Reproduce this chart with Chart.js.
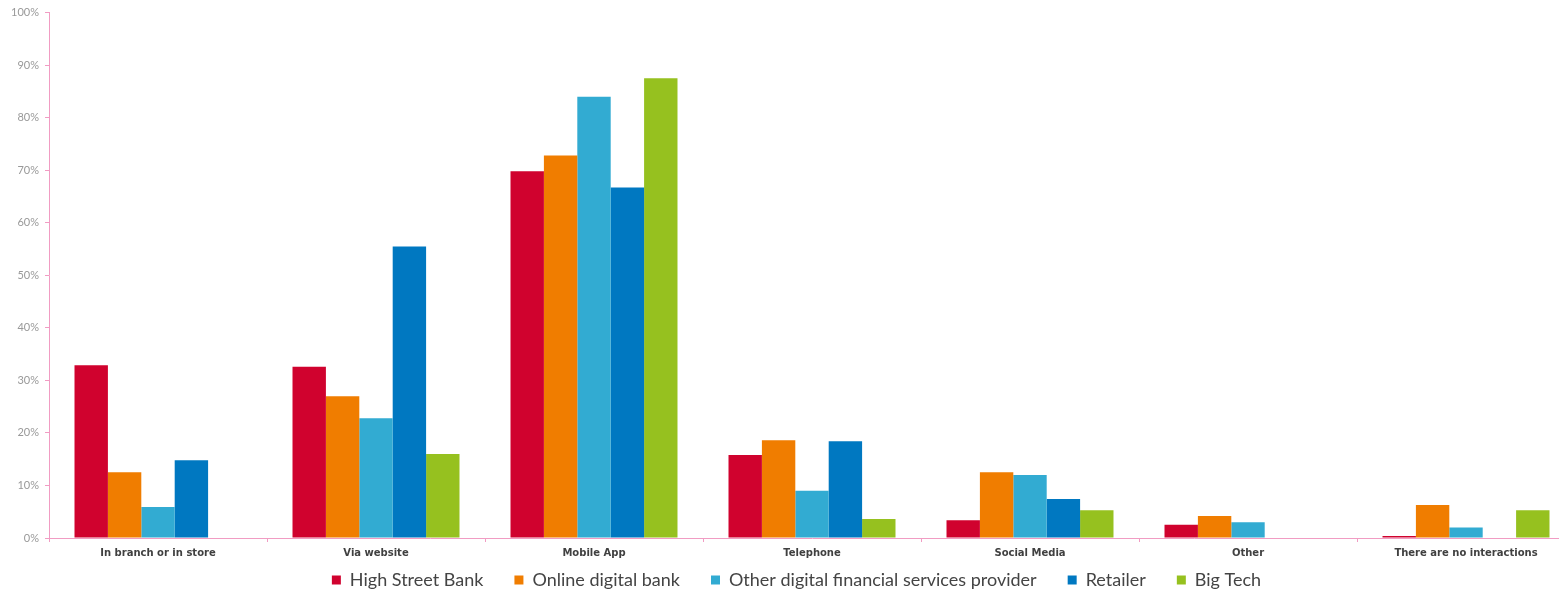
<!DOCTYPE html>
<html lang="en">
<head>
    <meta charset="UTF-8">
    <title>Interaction channels by provider</title>
    <script src="https://cdn.jsdelivr.net/npm/chart.js"></script>
    <style>
        html, body { margin: 0; padding: 0; background: #fff; overflow: hidden; }
        .wrap { position: relative; width: 1575px; height: 592px; }
    </style>
</head>
<body>
    <div class="wrap">
        <canvas id="grafico"></canvas>
    </div>
    <script>
        // categories and values (% of respondents)
        const categorias = ['In branch or in store', 'Via website', 'Mobile App', 'Telephone', 'Social Media', 'Other', 'There are no interactions'];
        const highStreetBank = [32.9, 32.6, 69.8, 15.8, 3.4, 2.5, 0.4];
        const onlineDigitalBank = [12.5, 27.0, 72.8, 18.6, 12.5, 4.2, 6.3];
        const otherDigitalProvider = [5.9, 22.8, 84.0, 9.0, 12.0, 3.0, 2.0];
        const retailer = [14.8, 55.5, 66.7, 18.4, 7.4, 0, 0];
        const bigTech = [0, 16.0, 87.5, 3.6, 5.3, 0, 5.3];
        const yTicks = [0, 10, 20, 30, 40, 50, 60, 70, 80, 90, 100];

        const rosa = '#f19cc3';

        // pull the legend up under the axis labels and a bit to the right
        const legendNudge = {
            id: 'legendNudge',
            afterLayout(chart) {
                const lg = chart.legend;
                lg.top = 540;
                lg.bottom = 592;
                lg.height = lg.bottom - lg.top;
                lg.left += 9;
                lg.right += 9;
            }
        };

        const ctx = document.getElementById('grafico').getContext('2d');
        new Chart(ctx, {
            type: 'bar',
            data: {
                labels: categorias,
                datasets: [
                    { label: 'High Street Bank', data: highStreetBank, backgroundColor: '#d0022e' },
                    { label: 'Online digital bank', data: onlineDigitalBank, backgroundColor: '#f07d00' },
                    { label: 'Other digital financial services provider', data: otherDigitalProvider, backgroundColor: '#32abd2' },
                    { label: 'Retailer', data: retailer, backgroundColor: '#0078c1' },
                    { label: 'Big Tech', data: bigTech, backgroundColor: '#96c11f' }
                ]
            },
            options: {
                responsive: true,
                maintainAspectRatio: false,
                animation: false,
                layout: { padding: { top: 12, right: 0, left: 0, bottom: 0 } },
                datasets: {
                    bar: { categoryPercentage: 0.766, barPercentage: 1.0, borderWidth: 0 }
                },
                plugins: {
                    tooltip: { enabled: false },
                    legend: {
                        position: 'bottom',
                        maxHeight: 26,
                        labels: {
                            font: { family: 'Lato', size: 18 },
                            color: '#444',
                            boxWidth: 9,
                            boxHeight: 9,
                            padding: 31
                        }
                    }
                },
                scales: {
                    x: {
                        grid: { drawOnChartArea: false, color: rosa, tickLength: 4, offset: true },
                        border: { color: rosa },
                        ticks: {
                            color: '#404040',
                            font: { family: 'DejaVu Sans', size: 10, weight: 'bold' },
                            padding: 5,
                            maxRotation: 0,
                            autoSkip: false
                        },
                        afterFit: (scale) => { scale.height = 28; }
                    },
                    y: {
                        min: 0,
                        max: 100,
                        afterBuildTicks: (scale) => { scale.ticks = yTicks.map(v => ({ value: v })); },
                        grid: { drawOnChartArea: false, color: rosa, tickLength: 4 },
                        border: { color: rosa },
                        ticks: {
                            color: '#999',
                            font: { family: 'Lato', size: 11 },
                            padding: 6,
                            callback: (v) => v + '%'
                        },
                        afterFit: (scale) => { scale.width = 49; }
                    }
                }
            },
            plugins: [legendNudge]
        });
    </script>
</body>
</html>
